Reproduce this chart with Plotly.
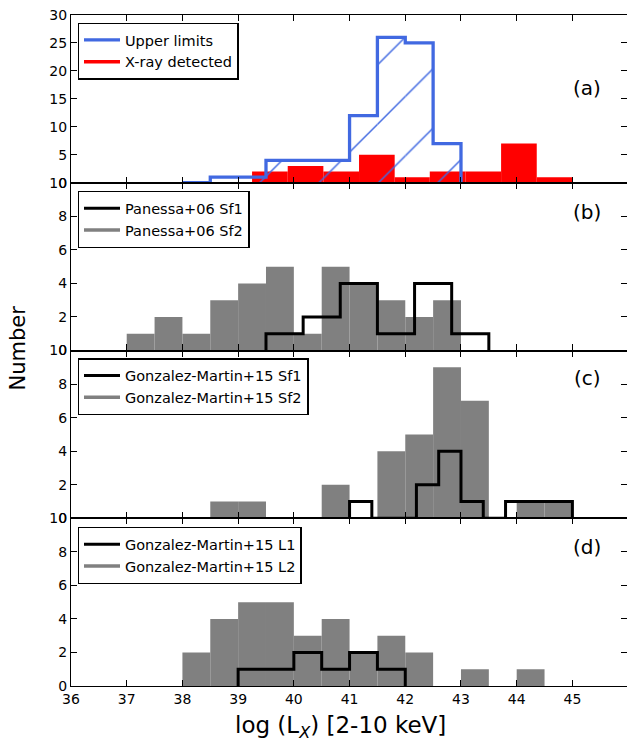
import plotly.graph_objects as go
from plotly.subplots import make_subplots

# ---------------- data ----------------
UL_EDGES = [38.0, 38.5, 39.0, 39.5, 40.0, 40.5, 41.0, 41.5, 42.0, 42.5, 43.0]
UL_COUNTS = [0, 1, 1, 4, 4, 4, 12, 26, 25, 7]

XR_EDGES = [39.25, 39.89, 40.53, 41.17, 41.81, 42.44, 43.08, 43.72, 44.36, 45.0]
XR_COUNTS = [2, 3, 2, 5, 1, 2, 2, 7, 1]

P06_SF2_EDGES = [37.0, 37.5, 38.0, 38.5, 39.0, 39.5, 40.0, 40.5, 41.0, 41.5, 42.0, 42.5, 43.0]
P06_SF2_COUNTS = [1, 2, 1, 3, 4, 5, 1, 5, 4, 3, 2, 3]
P06_SF1_EDGES = [39.5, 40.167, 40.833, 41.5, 42.167, 42.833, 43.5]
P06_SF1_COUNTS = [1, 2, 4, 1, 4, 1]

G15_SF2_EDGES = [38.5, 39.0, 39.5, 40.0, 40.5, 41.0, 41.5, 42.0, 42.5, 43.0, 43.5, 44.0, 44.5, 45.0]
G15_SF2_COUNTS = [1, 1, 0, 0, 2, 0, 4, 5, 9, 7, 0, 1, 1]
G15_SF1_EDGES = [41.0, 41.4, 41.8, 42.2, 42.6, 43.0, 43.4, 43.8, 44.2, 44.6, 45.0]
G15_SF1_COUNTS = [1, 0, 0, 2, 4, 1, 0, 1, 1, 1]

G15_L2_EDGES = [38.0, 38.5, 39.0, 39.5, 40.0, 40.5, 41.0, 41.5, 42.0, 42.5, 43.0, 43.5, 44.0, 44.5]
G15_L2_COUNTS = [2, 4, 5, 5, 3, 4, 2, 3, 2, 0, 1, 0, 1]
G15_L1_EDGES = [39.0, 39.5, 40.0, 40.5, 41.0, 41.5, 42.0]
G15_L1_COUNTS = [1, 1, 2, 1, 2, 1]

X_TICKS = [36, 37, 38, 39, 40, 41, 42, 43, 44, 45]
PANEL_LABELS = ["(a)", "(b)", "(c)", "(d)"]

BLUE = "#4169E1"
RED = "#FF0000"
GRAY = "#808080"
BLACK = "#000000"
FONT = "DejaVu Sans"


def centers_widths(edges):
    c = [(edges[i] + edges[i + 1]) / 2 for i in range(len(edges) - 1)]
    w = [edges[i + 1] - edges[i] for i in range(len(edges) - 1)]
    return c, w


def step_xy(edges, counts):
    xs = [edges[0]]
    ys = [0]
    for i, c in enumerate(counts):
        xs += [edges[i], edges[i + 1]]
        ys += [c, c]
    xs.append(edges[-1])
    ys.append(0)
    return xs, ys


fig = make_subplots(rows=4, cols=1, shared_xaxes=True, vertical_spacing=0)


def add_bars(edges, counts, row, color, **kw):
    c, w = centers_widths(edges)
    fig.add_trace(go.Bar(x=c, y=counts, width=w, marker=dict(color=color, line=dict(width=0)),
                         showlegend=False, hoverinfo="skip", **kw), row=row, col=1)


def add_step(edges, counts, row, color, name, legend, lw=3):
    xs, ys = step_xy(edges, counts)
    fig.add_trace(go.Scatter(x=xs, y=ys, mode="lines", line=dict(color=color, width=lw),
                             name=name, legend=legend, showlegend=True), row=row, col=1)


def add_legend_line(row, color, name, legend, lw=3.5):
    fig.add_trace(go.Scatter(x=[None], y=[None], mode="lines", line=dict(color=color, width=lw),
                             name=name, legend=legend, showlegend=True), row=row, col=1)


# panel (a)
add_bars(XR_EDGES, XR_COUNTS, 1, RED)
c, w = centers_widths(UL_EDGES)
fig.add_trace(go.Bar(x=c, y=UL_COUNTS, width=w,
                     marker=dict(color="rgba(0,0,0,0)", line=dict(width=0),
                                 pattern=dict(shape="/", fgcolor=BLUE, bgcolor="rgba(0,0,0,0)",
                                              fgopacity=1, size=42, solidity=0.035,
                                              fillmode="overlay")),
                     showlegend=False, hoverinfo="skip"), row=1, col=1)
add_step(UL_EDGES, UL_COUNTS, 1, BLUE, "Upper limits", "legend", lw=3.3)
add_legend_line(1, RED, "X-ray detected", "legend")

# panel (b)
add_bars(P06_SF2_EDGES, P06_SF2_COUNTS, 2, GRAY)
add_step(P06_SF1_EDGES, P06_SF1_COUNTS, 2, BLACK, "Panessa+06 Sf1", "legend2")
add_legend_line(2, GRAY, "Panessa+06 Sf2", "legend2")

# panel (c)
add_bars(G15_SF2_EDGES, G15_SF2_COUNTS, 3, GRAY)
add_step(G15_SF1_EDGES, G15_SF1_COUNTS, 3, BLACK, "Gonzalez-Martin+15 Sf1", "legend3")
add_legend_line(3, GRAY, "Gonzalez-Martin+15 Sf2", "legend3")

# panel (d)
add_bars(G15_L2_EDGES, G15_L2_COUNTS, 4, GRAY)
add_step(G15_L1_EDGES, G15_L1_COUNTS, 4, BLACK, "Gonzalez-Martin+15 L1", "legend4")
add_legend_line(4, GRAY, "Gonzalez-Martin+15 L2", "legend4")

W, H = 627, 742
ML, MR, MT, MB = 71, 0, 15, 56
pw, ph = W - ML - MR, H - MT - MB


def px(xp):
    return (xp - ML) / pw


def py(yp):
    return (H - MB - yp) / ph


axis_common = dict(showline=True, linecolor=BLACK, linewidth=1.3, mirror="ticks",
                   ticks="inside", ticklen=6, tickwidth=1, tickcolor=BLACK,
                   showgrid=False, zeroline=False,
                   tickfont=dict(family=FONT, size=14, color=BLACK))

domains = [[0.75, 1.0], [0.5, 0.75], [0.25, 0.5], [0.0, 0.25]]
for i in range(4):
    xa = "xaxis" if i == 0 else f"xaxis{i + 1}"
    ya = "yaxis" if i == 0 else f"yaxis{i + 1}"
    fig.update_layout({
        xa: dict(range=[36, 45.98], tickvals=X_TICKS, showticklabels=(i == 3), **axis_common),
        ya: dict(domain=domains[i],
                 range=[0, 30] if i == 0 else [0, 10],
                 tickvals=[0, 5, 10, 15, 20, 25, 30] if i == 0 else [0, 2, 4, 6, 8, 10],
                 **axis_common),
    })

legend_common = dict(bordercolor=BLACK, borderwidth=1.3, bgcolor="white",
                     font=dict(family=FONT, size=14.5, color=BLACK),
                     xanchor="left", yanchor="top", tracegroupgap=0, itemwidth=36)
legend_tops = [22.7, 191, 358.3, 527]
fig.update_layout(
    legend=dict(x=px(77.7), y=py(legend_tops[0]), **legend_common),
    legend2=dict(x=px(77.7), y=py(legend_tops[1]), **legend_common),
    legend3=dict(x=px(77.7), y=py(legend_tops[2]), **legend_common),
    legend4=dict(x=px(77.7), y=py(legend_tops[3]), **legend_common),
)

annos = []
label_y = [88, 212, 378, 547]
for lab, yy in zip(PANEL_LABELS, label_y):
    annos.append(dict(text=lab, x=px(587), y=py(yy), xref="paper", yref="paper",
                      showarrow=False, xanchor="center", yanchor="middle",
                      font=dict(family=FONT, size=20, color=BLACK)))
annos.append(dict(text="Number", x=px(17.5), y=py(348), xref="paper", yref="paper",
                  showarrow=False, textangle=-90, xanchor="center", yanchor="middle",
                  font=dict(family=FONT, size=21, color=BLACK)))
annos.append(dict(text="log (L<sub><i>X</i></sub>) [2-10 keV]", x=px(340), y=py(727),
                  xref="paper", yref="paper", showarrow=False, xanchor="center", yanchor="middle",
                  font=dict(family=FONT, size=23, color=BLACK)))

fig.update_layout(width=W, height=H, margin=dict(l=ML, r=MR, t=MT, b=MB),
                  paper_bgcolor="white", plot_bgcolor="white", barmode="overlay",
                  annotations=annos, font=dict(family=FONT))

fig.write_html("out.html")
